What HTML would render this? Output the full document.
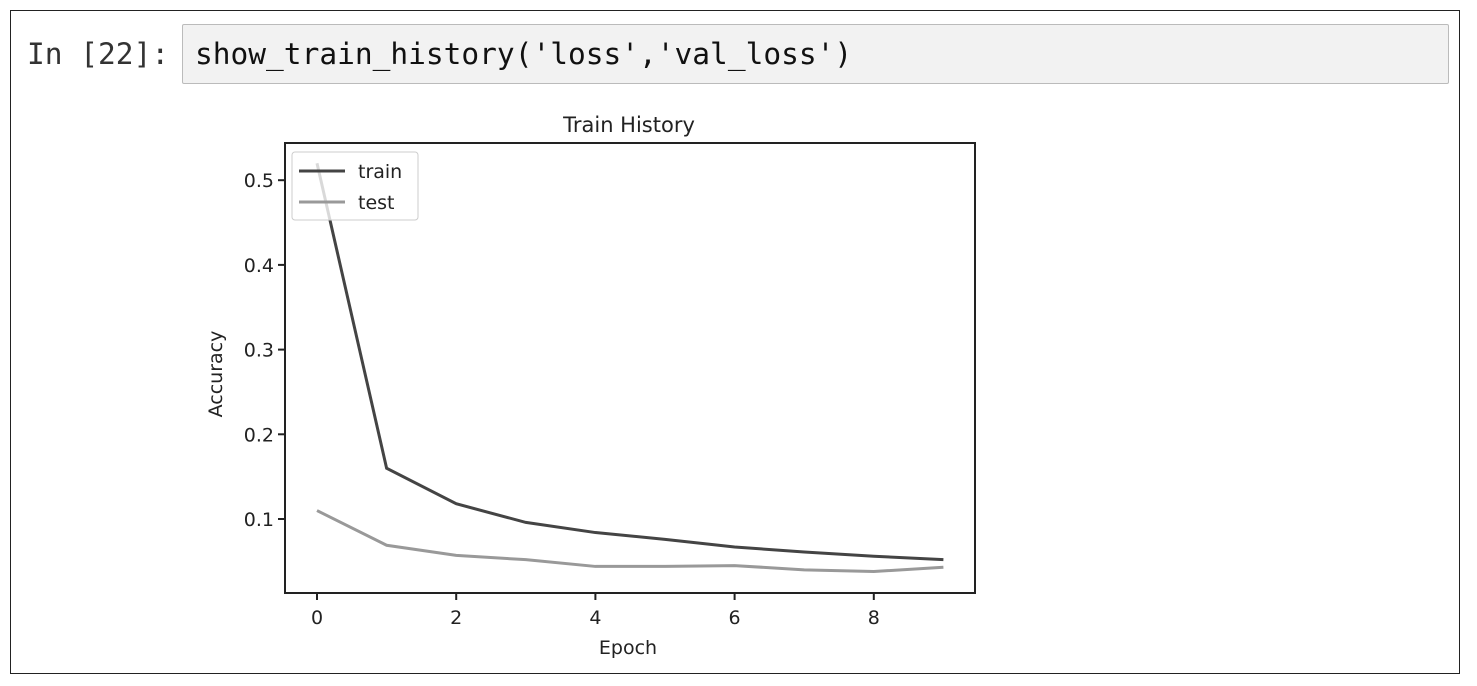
<!DOCTYPE html>
<html><head><meta charset="utf-8"><style>
body{margin:0;background:#fff;width:1477px;height:686px;overflow:hidden;font-family:"DejaVu Sans",sans-serif}
#frame{position:absolute;left:10px;top:10px;width:1450px;height:664px;border:1px solid #222;box-sizing:border-box}
#prompt{position:absolute;left:27px;top:37px;font:29.5px "DejaVu Sans Mono",monospace;color:#333}
#cell{position:absolute;left:182px;top:24px;width:1267px;height:60px;background:#f2f2f2;border:1px solid #bbb;box-sizing:border-box;border-radius:2px}
#code{position:absolute;left:195px;top:37px;font:29.5px "DejaVu Sans Mono",monospace;color:#111}
svg{position:absolute;left:0;top:0}
</style></head><body>
<div id="frame"></div>
<div id="prompt">In [22]:</div>
<div id="cell"></div>
<div id="code">show_train_history('loss','val_loss')</div>
<svg id="chart" width="1477" height="686"></svg>
<script>
const epochs=[0,1,2,3,4,5,6,7,8,9];
const trainLoss=[0.52,0.16,0.118,0.096,0.084,0.076,0.067,0.061,0.056,0.052];
const testLoss=[0.11,0.069,0.057,0.052,0.044,0.044,0.045,0.040,0.038,0.043];
const xTicks=[0,2,4,6,8];
const yTicks=[0.1,0.2,0.3,0.4,0.5];
const yTickLabels=["0.1","0.2","0.3","0.4","0.5"];
const L=285,R=975,T=143,B=593;
const xs=v=>317+v*69.6;
const ys=v=>519-(v-0.1)*847;
const svg=document.getElementById('chart');
const NS='http://www.w3.org/2000/svg';
function mk(tag,attrs,name){const e=document.createElementNS(NS,tag);for(const k in attrs)e.setAttribute(k,attrs[k]);


svg.appendChild(e);return e;}
function txt(x,y,s,name,extra){const t=mk('text',Object.assign({x:x,y:y,'font-size':19,fill:'#222','font-family':'DejaVu Sans, sans-serif'},extra||{}),name);t.textContent=s;return t;}
mk('rect',{x:L,y:T,width:R-L,height:B-T,fill:'#fff',stroke:'#222','stroke-width':2},'plot-area');
xTicks.forEach(v=>{mk('line',{x1:xs(v),x2:xs(v),y1:B,y2:B+7,stroke:'#222','stroke-width':2},'x-tick');
txt(xs(v),B+31,String(v),'x-tick-label',{'text-anchor':'middle'});});
yTicks.forEach((v,i)=>{mk('line',{x1:L-7,x2:L,y1:ys(v),y2:ys(v),stroke:'#222','stroke-width':2},'y-tick');
txt(L-11,ys(v)+7,yTickLabels[i],'y-tick-label',{'text-anchor':'end'});});
const pts=a=>a.map((v,i)=>xs(epochs[i])+','+ys(v)).join(' ');
mk('polyline',{points:pts(trainLoss),fill:'none',stroke:'#444','stroke-width':3},'train-line');
mk('polyline',{points:pts(testLoss),fill:'none',stroke:'#999','stroke-width':3},'test-line');
txt(629,132,'Train History','chart-title',{'text-anchor':'middle','font-size':21});
txt(628,654,'Epoch','x-axis-title',{'text-anchor':'middle','font-size':19});
txt(0,0,'Accuracy','y-axis-title',{'text-anchor':'middle','font-size':19,transform:'translate(222,374) rotate(-90)'});
mk('rect',{x:292,y:152,width:126,height:68,fill:'#fff','fill-opacity':0.8,stroke:'#ccc','stroke-width':1,rx:3},'legend');
mk('line',{x1:299,x2:345,y1:171,y2:171,stroke:'#444','stroke-width':3},'legend-train-swatch');
txt(358,178,'train','legend-train-label');
mk('line',{x1:299,x2:345,y1:202,y2:202,stroke:'#999','stroke-width':3},'legend-test-swatch');
txt(358,209,'test','legend-test-label');
</script>
</body></html>
